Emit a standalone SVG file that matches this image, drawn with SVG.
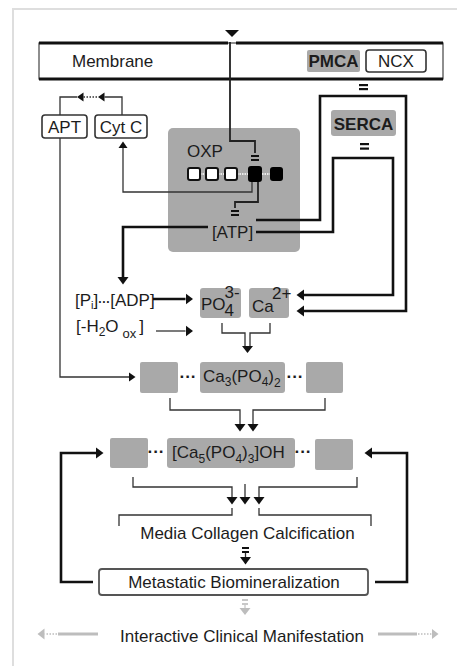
<svg xmlns="http://www.w3.org/2000/svg" width="457" height="666" viewBox="0 0 457 666">
<style>
text{font-family:"Liberation Sans",Arial,sans-serif;fill:#1c1c1c;font-size:17px}
.c{text-anchor:middle}
.b{font-weight:bold}
.g{fill:#a9a9a9}
.box{fill:#fff;stroke:#333;stroke-width:1.6}
.tk{fill:none;stroke:#111;stroke-width:2.6}
.md{fill:none;stroke:#222;stroke-width:1.8}
.tn{fill:none;stroke:#333;stroke-width:1.3}
.gr{fill:none;stroke:#bdbdbd;stroke-width:3}
.gd{fill:none;stroke:#bdbdbd;stroke-width:1.5;stroke-dasharray:1.5 1.5}
.eq{fill:#111}
.eqg{fill:#c8c8c8}
.sq{fill:#fff;stroke:#111;stroke-width:2}
.lnk{stroke:#fff;stroke-width:1.5;stroke-dasharray:1.5 1}
.dots{font-weight:bold}
</style>
<defs>
<marker id="a" viewBox="0 -6 8 12" refX="0" refY="0" markerWidth="8" markerHeight="12" markerUnits="userSpaceOnUse" orient="auto"><path d="M0,-5.5L7.5,0L0,5.5z" fill="#111"/></marker>
<marker id="s" viewBox="0 -5 7 10" refX="0" refY="0" markerWidth="7" markerHeight="10" markerUnits="userSpaceOnUse" orient="auto"><path d="M0,-4.5L6.5,0L0,4.5z" fill="#111"/></marker>
<marker id="ag" viewBox="0 -6 8 12" refX="0" refY="0" markerWidth="8" markerHeight="12" markerUnits="userSpaceOnUse" orient="auto"><path d="M0,-5.5L7,0L0,5.5z" fill="#bdbdbd"/></marker>
<path id="h" d="M0,0L-7,-5.5L-7,5.5z" fill="#111"/>
</defs>
<rect width="457" height="666" fill="#fff"/>
<path d="M13,666V9H457" fill="none" stroke="#dedede" stroke-width="2"/>

<g id="membrane">
<rect x="39" y="43" width="404" height="36" fill="#fff" stroke="#444" stroke-width="1.2"/>
<path d="M39,43H228M236,43H443M39,79H443" stroke="#111" stroke-width="3"/>
<text x="72" y="67">Membrane</text>
</g>
<g id="pmca">
<rect x="307" y="50" width="53" height="22" rx="2" class="g"/>
<text x="333.5" y="66.5" class="c b" font-size="15">PMCA</text>
</g>
<g id="ncx">
<rect x="366" y="50" width="60" height="22" rx="3" class="box"/>
<text x="396" y="67" class="c">NCX</text>
</g>
<g id="serca">
<rect x="331" y="110" width="65" height="26" rx="3" class="g"/>
<text x="363.5" y="129.5" class="c b" font-size="16">SERCA</text>
</g>
<g id="apt">
<rect x="42" y="115" width="45" height="23" rx="3" class="box"/>
<text x="64.5" y="133" class="c">APT</text>
</g>
<g id="cytc">
<rect x="95" y="115" width="52" height="23" rx="3" class="box"/>
<text x="121" y="133" class="c" font-size="16">Cyt C</text>
</g>
<g id="oxp">
<rect x="168" y="128" width="132" height="124" rx="5" class="g"/>
<text x="187" y="157">OXP</text>
<path d="M200,174H206M218,174H225M237,174H248M262,174H270" class="lnk"/>
<rect x="188" y="168" width="12" height="12" rx="2" class="sq"/>
<rect x="206" y="168" width="12" height="12" rx="2" class="sq"/>
<rect x="225" y="168" width="12" height="12" rx="2" class="sq"/>
<rect x="248" y="166" width="14" height="16" rx="3" fill="#000"/>
<rect x="270" y="167" width="13" height="14" rx="3" fill="#000"/>
</g>
<g id="atp">
<text x="232.5" y="238" class="c">[ATP]</text>
</g>
<g id="pi-adp">
<text x="75" y="306">[P<tspan font-size="11" dy="3">i</tspan><tspan dy="-3">]</tspan><tspan class="dots" font-size="12">···</tspan>[ADP]</text>
</g>
<g id="h2o">
<text x="76" y="332">[-H<tspan font-size="12" dy="4">2</tspan><tspan dy="-4">O</tspan><tspan font-size="13" dy="6" dx="4">ox</tspan><tspan dy="-6" dx="3">]</tspan></text>
</g>
<g id="po4">
<rect x="200" y="288" width="41" height="30" rx="3" class="g"/>
<text x="201" y="310" font-size="14">PO</text>
<text x="224.5" y="298" font-size="11">3-</text>
<text x="224.5" y="316" font-size="11">4</text>
</g>
<g id="ca">
<rect x="249" y="288" width="40" height="30" rx="3" class="g"/>
<text x="252" y="312" font-size="15">Ca</text>
<text x="272" y="299" font-size="11">2+</text>
</g>
<g id="ca3po42">
<rect x="140" y="362" width="38" height="31" rx="2" class="g"/>
<text x="188" y="382" class="c dots">···</text>
<rect x="200" y="362" width="85" height="31" rx="3" class="g"/>
<text x="203" y="382" font-size="16">Ca<tspan font-size="12" dy="4">3</tspan><tspan dy="-4">(PO</tspan><tspan font-size="12" dy="4">4</tspan><tspan dy="-4">)</tspan><tspan font-size="12" dy="5">2</tspan></text>
<text x="295" y="382" class="c dots">···</text>
<rect x="306" y="362" width="37" height="31" rx="2" class="g"/>
</g>
<g id="hydroxyapatite">
<rect x="110" y="438" width="38" height="30" rx="2" class="g"/>
<text x="156" y="457" class="c dots">···</text>
<rect x="167" y="438" width="128" height="30" rx="3" class="g"/>
<text x="172" y="458" font-size="16">[Ca<tspan font-size="12" dy="5">5</tspan><tspan dy="-5">(PO</tspan><tspan font-size="12" dy="5">4</tspan><tspan dy="-5">)</tspan><tspan font-size="12" dy="5">3</tspan><tspan dy="-5">]OH</tspan></text>
<text x="303" y="457" class="c dots">···</text>
<rect x="315" y="439" width="38" height="31" rx="2" class="g"/>
</g>
<g id="media">
<text x="247.5" y="539" class="c" font-size="17.5">Media Collagen Calcification</text>
</g>
<g id="metastatic">
<rect x="99" y="569" width="269" height="26" rx="3" fill="#fff" stroke="#555" stroke-width="1.8"/>
<text x="234" y="588" class="c" font-size="17.5">Metastatic Biomineralization</text>
</g>
<g id="clinical">
<text x="242" y="642" class="c" font-size="17.5">Interactive Clinical Manifestation</text>
</g>

<g id="connectors">
<polygon points="225,30 239,30 232,37" fill="#111"/>
<path class="md" d="M230,42V141H255V153"/>
<rect x="251" y="155" width="8" height="2" class="eq"/><rect x="251" y="159" width="8" height="2" class="eq"/>
<path class="tn" d="M252,182V192H123V148" marker-end="url(#s)"/>
<path class="md" d="M258,182V202H235V208"/>
<rect x="231" y="210" width="8" height="2" class="eq"/><rect x="231" y="214" width="8" height="2" class="eq"/>
<path class="tk" d="M208,227H123V277" marker-end="url(#a)"/>
<path class="tk" d="M256,220H320V96H406V311H304" marker-end="url(#a)"/>
<path class="tk" d="M256,232H333V158H393V295H304" marker-end="url(#a)"/>
<rect x="359" y="84" width="9" height="2.2" class="eq"/><rect x="359" y="88" width="9" height="2.2" class="eq"/>
<rect x="360" y="143" width="9" height="2.2" class="eq"/><rect x="360" y="147.5" width="9" height="2.2" class="eq"/>
<path class="tn" d="M122,115V97H104.5" marker-end="url(#s)"/>
<path class="tn" d="M97,97H84" stroke-dasharray="1.5 1.5"/>
<path class="tn" d="M84,97H83.5" marker-end="url(#s)"/>
<path class="tn" d="M77,97H60V115"/>
<path class="tn" d="M60,138V377H129" marker-end="url(#s)"/>
<path class="tk" d="M153,299H185.5" marker-end="url(#a)"/>
<path class="tn" d="M156,331H185.5" marker-end="url(#a)"/>
<path class="tn" d="M222,323V333H245V347M270,323V333H250V347"/>
<use href="#h" transform="translate(247.5,353) rotate(90)"/>
<path class="tn" d="M170,398V410H240V424" marker-end="url(#a)"/>
<path class="tn" d="M325,398V410H253V424" marker-end="url(#a)"/>
<path class="tk" d="M93,582H61V453H96" marker-end="url(#a)"/>
<path class="tk" d="M375,582H407V453H372" marker-end="url(#a)"/>
<path class="tn" d="M133,477V487H232V497" marker-end="url(#a)"/>
<path class="tn" d="M245,484V497" marker-end="url(#a)"/>
<path class="tn" d="M357,477V487H259V497" marker-end="url(#a)"/>
<path class="tn" d="M232,508V515H119V526M259,508V515H371V526"/>
<rect x="242" y="547" width="7" height="2" class="eq"/><rect x="242" y="551" width="7" height="2" class="eq"/>
<path class="tn" d="M245.5,553V557" marker-end="url(#a)"/>
<rect x="242" y="599" width="6" height="2" class="eqg"/><rect x="242" y="603" width="6" height="2" class="eqg"/>
<path d="M245,605V608" stroke="#c8c8c8" stroke-width="1.3" marker-end="url(#ag)"/>
<path class="gr" d="M98,634H58"/>
<path class="gd" d="M57,634H45"/>
<path d="M45,634H44.5" stroke="#bdbdbd" marker-end="url(#ag)"/>
<path class="gr" d="M378,634H417"/>
<path class="gd" d="M418,634H431"/>
<path d="M431,634H431.5" stroke="#bdbdbd" marker-end="url(#ag)"/>
</g>
</svg>
